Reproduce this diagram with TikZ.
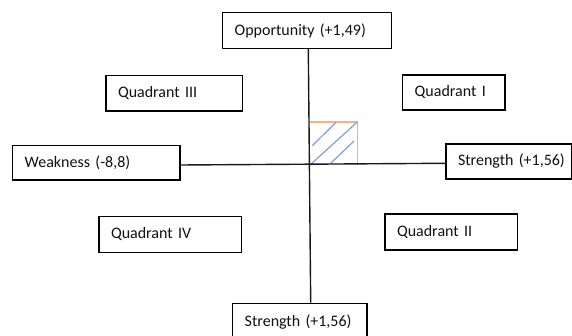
\documentclass[tikz,border=0pt]{standalone}
\usepackage{fontspec}
\setmainfont{Carlito}
\definecolor{hatchorange}{HTML}{F4B183}
\definecolor{hatchblue}{HTML}{7F9FDA}
\definecolor{txt}{HTML}{111111}
\begin{document}
\begin{tikzpicture}[x=1pt,y=-1pt]
\useasboundingbox (0,0) rectangle (572,336);
\tikzset{
  box/.style={draw=black, line width=1.4pt, fill=white, inner xsep=12pt, inner ysep=0pt,
    align=left, text=txt, font=\fontsize{16}{19}\selectfont},
  axis/.style={draw=black!90, line width=1.4pt},
  orangeline/.style={draw=hatchorange, line width=1.4pt},
  blueline/.style={draw=hatchblue, line width=1.2pt}
}
% hatch square
\coordinate (c) at (310,165);
\coordinate (sqa) at (310,122);
\coordinate (sqb) at (357.3,122);
\coordinate (sqc) at (357.3,165);
\coordinate (ba) at (312.3,145.7);
\coordinate (bb) at (336,122.3);
\coordinate (bc) at (330.7,163.3);
\coordinate (bd) at (354,141);
\draw[orangeline] (sqa) -- (sqb) -- (sqc);
\draw[blueline] (c) -- (sqb);
\draw[blueline] (ba) -- (bb);
\draw[blueline] (bc) -- (bd);
% boxes
\node[box, text width=145pt, minimum height=35.6pt] (opp) at (307.2,30.5) {\mbox{Opportunity (+1,49)}};
\node[box, text width=143.3pt, minimum height=34.3pt] (weak) at (96.3,162.8) {\mbox{Weakness (-8,8)}};
\node[box, text width=101.5pt, minimum height=35pt] (strR) at (508.75,161.5) {\mbox{Strength (+1,56)}};
\node[box, text width=110.3pt, minimum height=37.4pt] (bot) at (299.85,322) {\mbox{Strength (+1,56)}};
\node[box, text width=112.3pt, minimum height=35.3pt] (q3) at (174.15,93.35) {\mbox{Quadrant III}};
\node[box, text width=78.3pt, minimum height=35pt] (q1) at (453.85,92.5) {\mbox{Quadrant I}};
\node[box, text width=118.7pt, minimum height=35.6pt] (q4) at (170.35,234.5) {\mbox{Quadrant IV}};
\node[box, text width=108.7pt, minimum height=36pt] (q2) at (451.35,232) {\mbox{Quadrant II}};
% axes
\coordinate (vt) at (308.3,0);
\coordinate (vb) at (310.7,0);
\coordinate (hl) at (0,165);
\coordinate (hr) at (0,163.3);
\draw[axis] (opp.south -| vt) -- (bot.north -| vb);
\draw[axis] (weak.east |- hl) -- (strR.west |- hr);
\end{tikzpicture}
\end{document}
